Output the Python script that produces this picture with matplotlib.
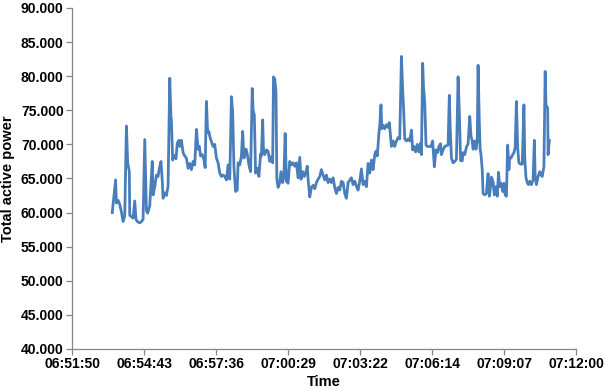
"""Total active power over time — line chart."""
import matplotlib
matplotlib.use("Agg")
import matplotlib.pyplot as plt
from matplotlib.ticker import FuncFormatter, MultipleLocator

# ── data ───────────────────────────────────────────────────────────────────
TIMES = [
    "06:53:27", "06:53:35", "06:53:37", "06:53:41", "06:53:45", "06:53:49", "06:53:53", "06:53:57",
    "06:54:01", "06:54:04", "06:54:08", "06:54:09", "06:54:13", "06:54:17", "06:54:21", "06:54:24",
    "06:54:27", "06:54:32", "06:54:36", "06:54:41", "06:54:45", "06:54:49", "06:54:52", "06:54:57",
    "06:55:03", "06:55:05", "06:55:09", "06:55:13", "06:55:17", "06:55:20", "06:55:24", "06:55:27",
    "06:55:29", "06:55:33", "06:55:37", "06:55:41", "06:55:45", "06:55:48", "06:55:49", "06:55:52",
    "06:55:55", "06:56:00", "06:56:03", "06:56:07", "06:56:09", "06:56:13", "06:56:17", "06:56:21",
    "06:56:25", "06:56:29", "06:56:33", "06:56:37", "06:56:41", "06:56:45", "06:56:49", "06:56:53",
    "06:56:56", "06:56:59", "06:57:03", "06:57:07", "06:57:10", "06:57:13", "06:57:16", "06:57:19",
    "06:57:21", "06:57:25", "06:57:29", "06:57:33", "06:57:37", "06:57:41", "06:57:45", "06:57:49",
    "06:57:53", "06:57:57", "06:58:01", "06:58:05", "06:58:09", "06:58:13", "06:58:16", "06:58:19",
    "06:58:23", "06:58:27", "06:58:29", "06:58:33", "06:58:37", "06:58:40", "06:58:43", "06:58:48",
    "06:58:51", "06:58:55", "06:58:59", "06:59:03", "06:59:05", "06:59:08", "06:59:11", "06:59:15",
    "06:59:19", "06:59:23", "06:59:25", "06:59:28", "06:59:30", "06:59:33", "06:59:37", "06:59:41",
    "06:59:45", "06:59:49", "06:59:52", "06:59:54", "06:59:57", "07:00:00", "07:00:02", "07:00:05",
    "07:00:09", "07:00:12", "07:00:16", "07:00:19", "07:00:22", "07:00:25", "07:00:29", "07:00:33",
    "07:00:37", "07:00:41", "07:00:45", "07:00:49", "07:00:53", "07:00:57", "07:01:00", "07:01:04",
    "07:01:08", "07:01:12", "07:01:15", "07:01:17", "07:01:21", "07:01:25", "07:01:29", "07:01:33",
    "07:01:37", "07:01:41", "07:01:45", "07:01:49", "07:01:53", "07:01:57", "07:02:01", "07:02:05",
    "07:02:09", "07:02:13", "07:02:17", "07:02:21", "07:02:25", "07:02:29", "07:02:33", "07:02:37",
    "07:02:41", "07:02:45", "07:02:49", "07:02:53", "07:03:01", "07:03:05", "07:03:09", "07:03:13",
    "07:03:17", "07:03:21", "07:03:25", "07:03:29", "07:03:33", "07:03:37", "07:03:41", "07:03:45",
    "07:03:49", "07:03:53", "07:03:57", "07:04:00", "07:04:03", "07:04:07", "07:04:09", "07:04:12",
    "07:04:14", "07:04:17", "07:04:21", "07:04:25", "07:04:29", "07:04:32", "07:04:35", "07:04:37",
    "07:04:41", "07:04:45", "07:04:49", "07:04:53", "07:04:57", "07:05:01", "07:05:04", "07:05:06",
    "07:05:09", "07:05:13", "07:05:17", "07:05:21", "07:05:25", "07:05:28", "07:05:31", "07:05:35",
    "07:05:39", "07:05:43", "07:05:47", "07:05:49", "07:05:52", "07:05:54", "07:05:57", "07:06:00",
    "07:06:03", "07:06:08", "07:06:12", "07:06:16", "07:06:20", "07:06:24", "07:06:28", "07:06:31",
    "07:06:35", "07:06:37", "07:06:41", "07:06:45", "07:06:49", "07:06:53", "07:06:56", "07:06:58",
    "07:07:01", "07:07:05", "07:07:09", "07:07:13", "07:07:17", "07:07:20", "07:07:23", "07:07:27",
    "07:07:29", "07:07:33", "07:07:37", "07:07:41", "07:07:45", "07:07:48", "07:07:51", "07:07:53",
    "07:07:57", "07:08:00", "07:08:03", "07:08:05", "07:08:08", "07:08:10", "07:08:12", "07:08:15",
    "07:08:17", "07:08:21", "07:08:25", "07:08:29", "07:08:32", "07:08:35", "07:08:37", "07:08:41",
    "07:08:44", "07:08:48", "07:08:51", "07:08:54", "07:08:57", "07:09:00", "07:09:04", "07:09:07",
    "07:09:10", "07:09:13", "07:09:16", "07:09:19", "07:09:21", "07:09:24", "07:09:28", "07:09:31",
    "07:09:34", "07:09:37", "07:09:40", "07:09:43", "07:09:47", "07:09:51", "07:09:55", "07:09:57",
    "07:10:00", "07:10:03", "07:10:06", "07:10:09", "07:10:13", "07:10:17", "07:10:20", "07:10:22",
    "07:10:25", "07:10:29", "07:10:33", "07:10:36", "07:10:39", "07:10:43", "07:10:46", "07:10:48",
    "07:10:52", "07:10:53", "07:10:56",
]

POWER = [
    60.0, 64.8, 61.4, 61.8, 61.2, 60.1, 58.7, 59.5,
    72.7, 67.3, 66.0, 59.6, 59.4, 59.2, 61.7, 59.0,
    58.7, 58.5, 58.6, 59.0, 70.7, 60.3, 59.9, 61.0,
    67.5, 62.6, 63.8, 65.5, 65.3, 66.5, 67.5, 64.7,
    62.1, 62.9, 62.5, 63.9, 79.7, 73.9, 73.6, 67.7,
    68.4, 67.9, 70.2, 70.6, 69.7, 70.6, 68.8, 68.3,
    68.0, 66.5, 67.2, 66.3, 67.5, 67.0, 72.2, 69.3,
    69.7, 68.3, 68.5, 67.8, 66.6, 76.3, 71.7, 71.9,
    71.2, 70.4, 69.7, 70.0, 68.0, 67.3, 65.8, 65.3,
    65.5, 65.3, 64.8, 67.0, 64.9, 77.0, 74.8, 66.8,
    63.1, 63.3, 67.3, 67.0, 68.3, 71.9, 68.0, 69.3,
    68.6, 67.0, 66.0, 78.2, 75.0, 74.3, 65.8, 66.5,
    65.3, 68.6, 68.3, 73.6, 69.0, 68.5, 69.2, 69.0,
    67.5, 68.2, 67.3, 79.9, 79.6, 77.7, 64.9, 63.7,
    64.4, 66.0, 64.4, 65.3, 71.6, 64.6, 64.3, 67.5,
    67.0, 67.3, 66.8, 67.3, 65.1, 68.1, 64.9, 66.0,
    65.3, 66.0, 66.8, 64.9, 62.3, 63.7, 64.0, 63.5,
    64.4, 64.9, 65.3, 66.3, 65.5, 64.8, 65.5, 64.4,
    64.9, 64.4, 65.1, 63.7, 62.8, 63.7, 63.3, 64.6,
    64.4, 62.8, 62.1, 64.4, 65.1, 64.1, 64.6, 63.9,
    63.3, 64.6, 66.4, 64.1, 64.6, 63.8, 67.2, 65.8,
    67.7, 66.3, 68.5, 69.0, 68.3, 71.6, 72.8, 75.8,
    72.3, 72.8, 72.3, 72.9, 72.5, 73.2, 71.2, 69.7,
    70.5, 69.7, 70.5, 71.0, 70.8, 82.9, 78.0, 75.6,
    70.8, 70.5, 70.8, 70.5, 72.1, 69.2, 69.7, 68.9,
    70.0, 68.9, 70.2, 68.5, 81.9, 78.5, 76.0, 69.9,
    69.7, 69.7, 69.7, 70.5, 66.7, 69.2, 68.8, 69.7,
    70.1, 68.5, 69.2, 69.7, 69.8, 69.9, 77.2, 72.6,
    68.0, 67.3, 67.5, 67.8, 79.9, 74.8, 67.6, 67.6,
    68.8, 68.5, 69.6, 70.1, 74.1, 71.2, 70.5, 69.3,
    70.5, 69.3, 70.5, 81.6, 73.1, 69.3, 68.5, 66.3,
    62.8, 62.6, 62.8, 65.7, 62.4, 63.8, 65.2, 64.5,
    62.6, 63.8, 62.4, 65.9, 63.8, 64.3, 63.1, 64.3,
    62.6, 62.4, 69.9, 66.3, 68.0, 68.0, 68.5, 68.8,
    69.5, 76.3, 69.5, 67.3, 67.1, 67.1, 75.8, 68.0,
    65.1, 64.4, 64.1, 64.6, 64.1, 64.8, 70.6, 65.3,
    64.1, 65.3, 66.0, 65.5, 65.3, 66.8, 80.7, 75.8,
    75.3, 68.5, 70.6,
]

X_MIN, X_MAX, X_STEP = 0.286, 0.300, 0.002   # Excel day fractions
Y_MIN, Y_MAX, Y_STEP = 40, 90, 5


def to_day(hms):
    h, m, s = (int(p) for p in hms.split(":"))
    return (h * 3600 + m * 60 + s) / 86400.0


def fmt_time(x, _pos):
    secs = int(round(x * 86400))
    return f"{secs // 3600:02d}:{secs % 3600 // 60:02d}:{secs % 60:02d}"


plt.rcParams["font.family"] = ["Liberation Sans", "DejaVu Sans"]
plt.rcParams["font.weight"] = "bold"

fig = plt.figure(figsize=(6.04, 3.90), dpi=100)
ax = fig.add_axes([72 / 604, 1 - 349 / 390, 504 / 604, 341 / 390])

ax.plot([to_day(t) for t in TIMES], POWER, color="#4a7ebb", lw=2.0,
        solid_joinstyle="round")

ax.set_xlim(X_MIN, X_MAX)
ax.set_ylim(Y_MIN, Y_MAX)
ax.xaxis.set_major_locator(MultipleLocator(X_STEP))
ax.xaxis.set_major_formatter(FuncFormatter(fmt_time))
ax.yaxis.set_major_locator(MultipleLocator(Y_STEP))
ax.yaxis.set_major_formatter(FuncFormatter(lambda v, _p: f"{v:.3f}"))

for side in ("top", "right"):
    ax.spines[side].set_visible(False)
for side in ("left", "bottom"):
    ax.spines[side].set_color("#868686")
    ax.spines[side].set_linewidth(0.9)
ax.tick_params(axis="both", direction="out", length=4, width=0.9,
               color="#868686", labelsize=10, labelcolor="black", pad=2)
for lab in ax.get_xticklabels() + ax.get_yticklabels():
    lab.set_fontweight("bold")

ax.set_xlabel("Time", fontsize=10.5, fontweight="bold", labelpad=3)
ax.set_ylabel("Total active power", fontsize=10.5, fontweight="bold", labelpad=4)

fig.savefig("out.png", dpi=100)
